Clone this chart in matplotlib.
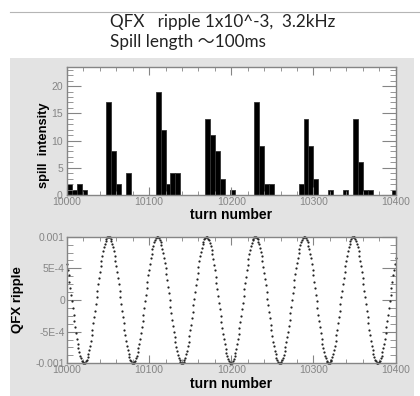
import numpy as np
import matplotlib
matplotlib.use("Agg")
import matplotlib.pyplot as plt
from matplotlib.patches import Rectangle
from matplotlib.lines import Line2D
from matplotlib.ticker import MultipleLocator, FixedLocator, FixedFormatter

# spill intensity histogram, 6-turn bins starting at turn 10000
bin_start = 10000
bin_width = 6
spill = [2, 1, 2, 1, 0, 0, 0, 0, 17, 8, 2, 0, 4, 0, 0, 0, 0, 0, 19, 12,
         2, 4, 4, 0, 0, 0, 0, 0, 14, 11, 8, 3, 0, 1, 0, 0, 0, 0, 17, 9,
         2, 2, 0, 0, 0, 0, 0, 2, 14, 9, 3, 0, 0, 1, 0, 0, 1, 0, 14, 6,
         1, 1, 0, 0, 0, 0, 1]

# QFX ripple, one dot per turn (units of 1e-4)
turn0 = 10000
ripple = [
    5.7, 4.8, 3.9, 2.9, 1.9, 0.8, -0.2, -1.3, -2.3, -3.3, -4.3, -5.2, -6.1, -6.9, -7.6, -8.2, -8.8, -9.2, -9.6, -9.8,
    -10.0, -10.0, -9.9, -9.7, -9.4, -9.0, -8.5, -7.9, -7.2, -6.4, -5.6, -4.7, -3.7, -2.7, -1.7, -0.6, 0.4, 1.5, 2.5, 3.5,
    4.5, 5.4, 6.2, 7.0, 7.7, 8.4, 8.9, 9.3, 9.7, 9.9, 10.0, 10.0, 9.9, 9.7, 9.3, 8.9, 8.4, 7.7, 7.0, 6.2,
    5.4, 4.5, 3.5, 2.5, 1.5, 0.4, -0.6, -1.7, -2.7, -3.7, -4.7, -5.6, -6.4, -7.2, -7.9, -8.5, -9.0, -9.4, -9.7, -9.9,
    -10.0, -10.0, -9.8, -9.6, -9.2, -8.8, -8.2, -7.6, -6.9, -6.1, -5.2, -4.3, -3.3, -2.3, -1.3, -0.2, 0.8, 1.9, 2.9, 3.9,
    4.8, 5.7, 6.6, 7.3, 8.0, 8.6, 9.1, 9.5, 9.8, 9.9, 10.0, 10.0, 9.8, 9.5, 9.2, 8.7, 8.1, 7.5, 6.7, 5.9,
    5.0, 4.1, 3.1, 2.1, 1.1, 0.0, -1.1, -2.1, -3.1, -4.1, -5.0, -5.9, -6.7, -7.5, -8.1, -8.7, -9.2, -9.5, -9.8, -10.0,
    -10.0, -9.9, -9.8, -9.5, -9.1, -8.6, -8.0, -7.3, -6.6, -5.7, -4.8, -3.9, -2.9, -1.9, -0.8, 0.2, 1.3, 2.3, 3.3, 4.3,
    5.2, 6.1, 6.9, 7.6, 8.2, 8.8, 9.2, 9.6, 9.8, 10.0, 10.0, 9.9, 9.7, 9.4, 9.0, 8.5, 7.9, 7.2, 6.4, 5.6,
    4.7, 3.7, 2.7, 1.7, 0.6, -0.4, -1.5, -2.5, -3.5, -4.5, -5.4, -6.2, -7.0, -7.7, -8.4, -8.9, -9.3, -9.7, -9.9, -10.0,
    -10.0, -9.9, -9.7, -9.3, -8.9, -8.4, -7.7, -7.0, -6.2, -5.4, -4.5, -3.5, -2.5, -1.5, -0.4, 0.6, 1.7, 2.7, 3.7, 4.7,
    5.6, 6.4, 7.2, 7.9, 8.5, 9.0, 9.4, 9.7, 9.9, 10.0, 10.0, 9.8, 9.6, 9.2, 8.8, 8.2, 7.6, 6.9, 6.1, 5.2,
    4.3, 3.3, 2.3, 1.3, 0.2, -0.8, -1.9, -2.9, -3.9, -4.8, -5.7, -6.6, -7.3, -8.0, -8.6, -9.1, -9.5, -9.8, -9.9, -10.0,
    -10.0, -9.8, -9.5, -9.2, -8.7, -8.1, -7.5, -6.7, -5.9, -5.0, -4.1, -3.1, -2.1, -1.1, 0.0, 1.1, 2.1, 3.1, 4.1, 5.0,
    5.9, 6.7, 7.5, 8.1, 8.7, 9.2, 9.5, 9.8, 10.0, 10.0, 9.9, 9.8, 9.5, 9.1, 8.6, 8.0, 7.3, 6.6,
    5.7, 4.8, 3.9, 2.9, 1.9, 0.8, -0.2, -1.3, -2.3, -3.3, -4.3, -5.2, -6.1, -6.9, -7.6, -8.2, -8.8, -9.2, -9.6, -9.8,
    -10.0, -10.0, -9.9, -9.7, -9.4, -9.0, -8.5, -7.9, -7.2, -6.4, -5.6, -4.7, -3.7, -2.7, -1.7, -0.6, 0.4, 1.5, 2.5, 3.5,
    4.5, 5.4, 6.2, 7.0, 7.7, 8.4, 8.9, 9.3, 9.7, 9.9, 10.0, 10.0, 9.9, 9.7, 9.3, 8.9, 8.4, 7.7, 7.0, 6.2,
    5.4, 4.5, 3.5, 2.5, 1.5, 0.4, -0.6, -1.7, -2.7, -3.7, -4.7, -5.6, -6.4, -7.2, -7.9, -8.5, -9.0, -9.4, -9.7, -9.9,
    -10.0, -10.0, -9.8, -9.6, -9.2, -8.8, -8.2, -7.6, -6.9, -6.1, -5.2, -4.3, -3.3, -2.3, -1.3, -0.2, 0.8, 1.9, 2.9, 3.9,
    4.8, 5.7, 6.6]

xticks = [10000, 10100, 10200, 10300, 10400]
spill_yticks = [0, 5, 10, 15, 20]
ripple_yticks = [-1e-3, -5e-4, 0, 5e-4, 1e-3]
ripple_ylabels = ["-0.001", "-5E-4", "0", "5E-4", "0.001"]

title1 = "QFX   ripple 1x10^-3,  3.2kHz"
title2 = "Spill length \uff5e100ms"

W, H = 420, 396
fig = plt.figure(figsize=(W / 100, H / 100), dpi=100)
fig.patch.set_facecolor("white")

# grey panel behind the two plots and thin rule at top
fig.patches.append(Rectangle((10 / W, 0), 404 / W, 1 - 58 / H, transform=fig.transFigure,
                             facecolor="#e3e3e3", edgecolor="none", zorder=-5))
fig.lines.append(Line2D([10 / W, 1], [1 - 12 / H, 1 - 12 / H], transform=fig.transFigure,
                        color="#b5b5b5", lw=0.8, zorder=-5))

tfont = dict(family=["Lato", "Noto Sans CJK JP"], fontsize=12.3, color="#222222")
fig.text(110 / W, 1 - 27.3 / H, title1, va="baseline", **tfont)
fig.text(110 / W, 1 - 46.7 / H, title2, va="baseline", **tfont)

grey = "#858585"
lfont = dict(family="Liberation Sans", fontsize=10, fontweight="bold")


def style(ax):
    for s in ax.spines.values():
        s.set_color(grey)
        s.set_linewidth(1.0)
    ax.tick_params(which="both", direction="in", top=True, right=True, colors=grey,
                   labelsize=7.5, pad=1.5)
    ax.tick_params(axis="x", which="major", length=6)
    ax.tick_params(axis="x", which="minor", length=3)
    ax.tick_params(axis="y", which="major", length=10, pad=3)
    ax.tick_params(axis="y", which="minor", length=4)
    for lab in ax.get_xticklabels() + ax.get_yticklabels():
        lab.set_family("Liberation Sans")
    ax.set_xlim(10000, 10400)
    ax.xaxis.set_major_locator(FixedLocator(xticks))
    ax.xaxis.set_minor_locator(MultipleLocator(20))
    ax.set_xlabel("turn number", labelpad=1, **lfont)


# spill intensity
ax1 = fig.add_axes([67 / W, 1 - 195 / H, 328.5 / W, 128 / H])
ax1.set_facecolor("white")
lefts = [bin_start + i * bin_width for i in range(len(spill))]
ax1.bar(lefts, spill, width=bin_width, align="edge", color="black",
        edgecolor="#333333", linewidth=0.6)
ax1.set_ylim(0, 23.5)
ax1.yaxis.set_major_locator(FixedLocator(spill_yticks))
ax1.yaxis.set_minor_locator(MultipleLocator(1))
style(ax1)
ax1.set_ylabel("spill  intensity", fontsize=9.3, family="Liberation Sans", fontweight="bold")
ax1.yaxis.set_label_coords(-0.052, 0.39)

# QFX ripple
ax2 = fig.add_axes([67 / W, 1 - 363.3 / H, 328.5 / W, 126.6 / H])
ax2.set_facecolor("white")
turns = [turn0 + i for i in range(len(ripple))]
ax2.plot(turns, [v * 1e-4 for v in ripple], linestyle="none", marker="o",
         markersize=1.6, color="#222222", markeredgewidth=0, clip_on=False)
ax2.set_ylim(-1e-3, 1e-3)
ax2.yaxis.set_major_locator(FixedLocator(ripple_yticks))
ax2.yaxis.set_major_formatter(FixedFormatter(ripple_ylabels))
ax2.yaxis.set_minor_locator(MultipleLocator(1.25e-4))
style(ax2)
ax2.tick_params(axis="y", which="major", pad=1.5)
ax2.set_ylabel("QFX ripple", fontsize=9.5, family="Liberation Sans", fontweight="bold")
ax2.yaxis.set_label_coords(-0.131, 0.5)

fig.savefig("out.png", dpi=100)
